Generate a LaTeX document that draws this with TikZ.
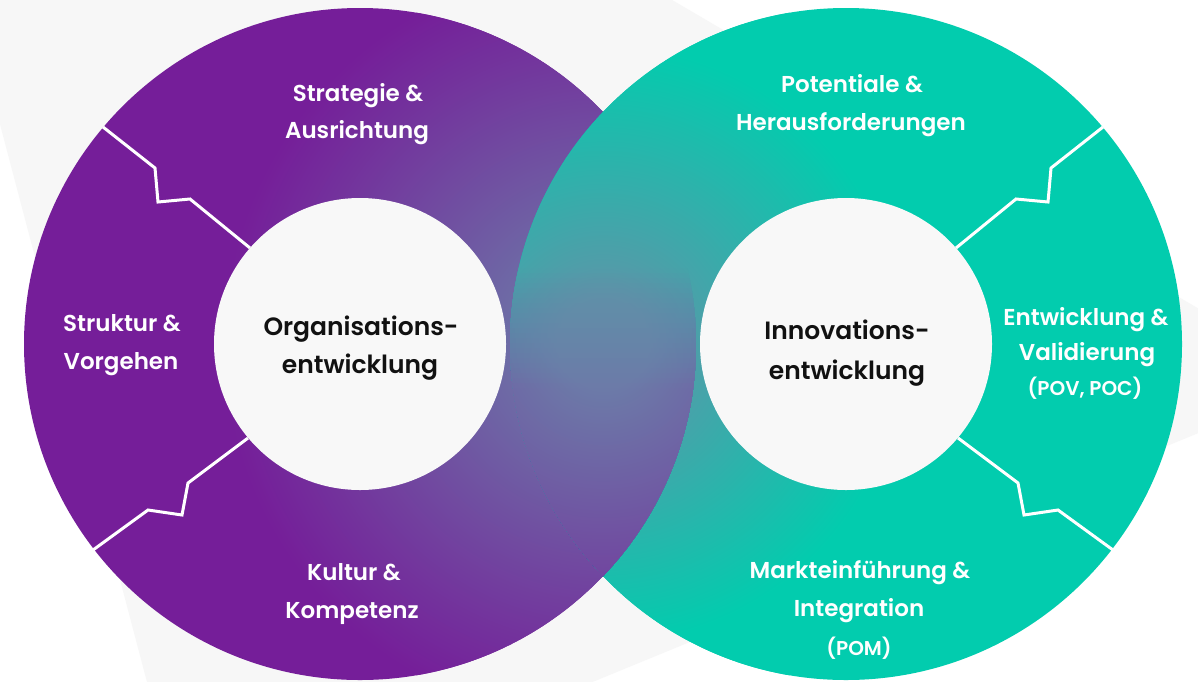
\documentclass[tikz,border=0pt]{standalone}
\usepackage{fontspec}
\setmainfont{Poppins}[UprightFont={* SemiBold}, BoldFont={* Bold}]
\definecolor{purp}{RGB}{117,30,153}
\definecolor{tealc}{RGB}{2,204,174}
\definecolor{midp}{RGB}{108,122,168}
\definecolor{midt}{RGB}{92,150,168}
\definecolor{bggray}{RGB}{247,247,247}
\definecolor{innergray}{RGB}{248,248,248}
\definecolor{inktext}{RGB}{17,17,17}
\colorlet{purpknee}{purp!77!midp}
% blended radial shading: #1 name, #2 percent of purple
\newcommand{\declblend}[2]{%
  \colorlet{blA}{midp!#2!midt}%
  \colorlet{blB}{purpknee!#2!tealc}%
  \colorlet{blC}{purp!#2!tealc}%
  \pgfdeclareradialshading{#1}{\pgfpointorigin}{color(0bp)=(blA); color(3bp)=(blA); color(19.7bp)=(blB); color(25bp)=(blC); color(50bp)=(blC)}%
}
\declblend{purpsh}{100}
\declblend{tealsh}{0}
\tikzset{
  sepline/.style={white, line width=3pt, line join=miter},
  lbl/.style={text=white, anchor=base, inner sep=0pt, font=\fontsize{23}{28}\selectfont},
  lblsmall/.style={text=white, anchor=base, inner sep=0pt, font=\fontsize{20}{24}\selectfont},
  ctr/.style={text=inktext, anchor=base, inner sep=0pt, font=\fontsize{25}{30}\selectfont},
}
\begin{document}
\begin{tikzpicture}[x=1pt, y=-1pt]
\useasboundingbox (0,0) rectangle (1198,681);
\fill[white] (0,0) rectangle (1198,681);
% background shape
\fill[bggray, rounded corners=30pt] (-38,-20) -- (638,-20) -- (1235,330) -- (1235,418) -- (500,720) -- (157,720) -- cycle;

% purple ring base
\fill[purp] (360,344) circle[radius=336];
\begin{scope}
  \clip (360,344) circle[radius=336];
  \shade[shading=purpsh] (603,344) circle[radius=380];
\end{scope}

% teal ring base (on top)
\fill[tealc] (846,344) circle[radius=336];
\begin{scope}
  \clip (846,344) circle[radius=336];
  \shade[shading=tealsh] (603,344) circle[radius=380];
\end{scope}

% overlap: teal on top above, purple on top below, blended in between
\begin{scope}
  \clip (360,344) circle[radius=336];
  \clip (846,344) circle[radius=336];
  \foreach \k in {1,...,24} {
    \pgfmathsetmacro\yk{268+(\k-1)*5}
    \pgfmathsetmacro\wk{100*(\k-0.5)/24}
    \declblend{lensblend\k}{\wk}
    \begin{scope}
      \clip (400,\yk) rectangle (800,700);
      \shade[shading=lensblend\k] (603,344) circle[radius=380];
    \end{scope}
  }
  \begin{scope}
    \clip (400,388) rectangle (800,700);
    \shade[shading=purpsh] (603,344) circle[radius=380];
  \end{scope}
\end{scope}

% inner discs
\fill[innergray] (360,344) circle[radius=146];
\fill[innergray] (846,344) circle[radius=146];

% separators
\draw[sepline] (103,127) -- (155,168) -- (158,202) -- (190,199) -- (250,248);
\draw[sepline] (93,550) -- (148,510) -- (182,515) -- (188,483) -- (248,438);
\draw[sepline] (1103,127) -- (1051,168) -- (1048,202) -- (1016,199) -- (956,248);
\draw[sepline] (1113,550) -- (1058,510) -- (1024,515) -- (1018,483) -- (958,438);

% labels left ring
\node[lbl] (s1) at (358,101) {Strategie \&};
\node[lbl] (s2) at (357,138) {Ausrichtung};
\node[lbl] (v1) at (122,331) {Struktur \&};
\node[lbl] (v2) at (121,369) {Vorgehen};
\node[lbl] (k1) at (354,580) {Kultur \&};
\node[lbl] (k2) at (352,618) {Kompetenz};
\node[ctr] (o1) at (361,335) {Organisations-};
\node[ctr] (o2) at (360,373) {entwicklung};

% labels right ring
\node[lbl] (p1) at (852,92) {Potentiale \&};
\node[lbl] (p2) at (851,130) {Herausforderungen};
\node[lbl] (e1) at (1086,325) {Entwicklung \&};
\node[lbl] (e2) at (1087,360) {Validierung};
\node[lblsmall] (e3) at (1085,395) {(POV, POC)};
\node[lbl] (m1) at (860,578) {Markteinführung \&};
\node[lbl] (m2) at (859,616) {Integration};
\node[lblsmall] (m3) at (859,655) {(POM)};
\node[ctr] (i1) at (847,339) {Innovations-};
\node[ctr] (i2) at (847,379) {entwicklung};
\end{tikzpicture}
\end{document}
